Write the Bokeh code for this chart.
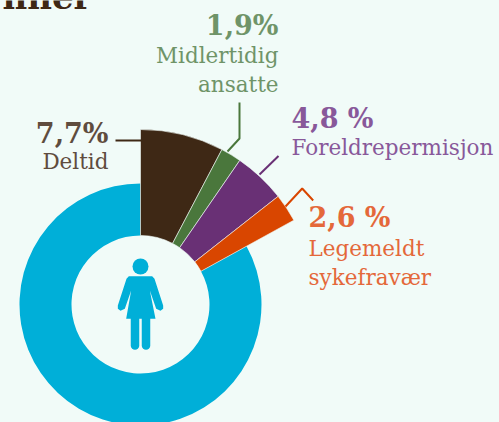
from math import pi
from bokeh.plotting import figure
from bokeh.embed import file_html
from bokeh.resources import INLINE
from bokeh.core.properties import value

# Data
categories = ["Deltid", "Midlertidig ansatte", "Foreldrepermisjon", "Legemeldt sykefravær"]
shares = [7.7, 1.9, 4.8, 2.6]
share_labels = ["7,7%", "1,9%", "4,8 %", "2,6 %"]
slice_colors = ["#3e2815", "#4a773c", "#693075", "#d94600"]
text_colors = ["#5f4c3e", "#6f9468", "#88589a", "#e4683a"]
rest_color = "#00afd8"
bg = "#f1fbf8"

W, H = 499, 422
def Y(py):
    return H - py

p = figure(width=W, height=H, x_range=(0, W), y_range=(0, H),
           output_backend="svg", toolbar_location=None, min_border=0)
p.axis.visible = False
p.grid.visible = False
p.outline_line_color = None
p.background_fill_color = bg
p.border_fill_color = bg

cx, cy = 140, Y(304)
r_in, r_rest, r_out = 69, 121, 175

# slices, clockwise from 12 o'clock
a = pi / 2
ends = []
for s in shares:
    ends.append(a - s / 100 * 2 * pi)
    a = ends[-1]
starts = [pi / 2] + ends[:-1]

p.annular_wedge([cx], [cy], r_in, r_rest, start_angle=[ends[-1]], end_angle=[pi / 2],
                direction="clock", color=rest_color, line_color=None)
p.annular_wedge([cx] * 4, [cy] * 4, r_in, r_out, start_angle=starts, end_angle=ends,
                direction="clock", fill_color=slice_colors, line_color=bg, line_width=0.6)

# leader lines
leaders = [
    ([115, 141], [140, 140], slice_colors[0]),
    ([239, 239, 227], [102, 138, 151], slice_colors[1]),
    ([278, 259], [155.5, 174], slice_colors[2]),
    ([285, 301.7, 312.7], [206, 188, 200], slice_colors[3]),
]
for xs, ys, c in leaders:
    p.line(xs, [Y(v) for v in ys], line_color=c, line_width=2)

# labels
NUM = value("DejaVu Serif")
LAB = value("DejaVu Serif")
def big(x, y, t, c, align):
    p.text([x], [Y(y - 10.5)], text=[t], text_color=c, text_font=NUM, text_font_size="27px",
           text_font_style="bold", text_align=align, text_baseline="alphabetic")
def small(x, y, t, c, align):
    p.text([x], [Y(y - 8.5)], text=[t], text_color=c, text_font=LAB, text_font_size="21.5px",
           text_align=align, text_baseline="alphabetic")

big(108, 143, share_labels[0], text_colors[0], "right")
small(108, 169, "Deltid", text_colors[0], "right")
big(278, 35, share_labels[1], text_colors[1], "right")
small(278, 63, "Midlertidig", text_colors[1], "right")
small(278, 92, "ansatte", text_colors[1], "right")
big(291, 128, share_labels[2], text_colors[2], "left")
small(291, 155, "Foreldrepermisjon", text_colors[2], "left")
big(308, 227, share_labels[3], text_colors[3], "left")
small(308, 256, "Legemeldt", text_colors[3], "left")
small(308, 285, "sykefravær", text_colors[3], "left")

# cropped heading
p.text([91], [Y(9 - 13)], text=["nner"], text_color="#3e2815", text_font=value("DejaVu Serif"),
       text_font_size="34px", text_font_style="bold", text_align="right", text_baseline="alphabetic")

# person icon
zx = lambda v: 90 + v / 3
zy = lambda v: Y(240 + v / 3)
dress_x = [115, 185, 192, 218, 218, 210, 197, 178, 195, 107, 122, 103, 90, 82, 82, 108]
dress_y = [107, 107, 115, 195, 205, 211, 205, 150, 235, 235, 150, 205, 211, 205, 195, 115]
p.patch([zx(v) for v in dress_x], [zy(v) for v in dress_y], color=rest_color, line_color=None)
p.circle([zx(150)], [zy(78)], radius=8, color=rest_color, line_color=None)
for lx in (134.5, 145.5):
    p.line([lx, lx], [Y(316), Y(345)], line_color=rest_color, line_width=8.5, line_cap="round")

html = file_html(p, INLINE).replace("</head>", "<style>html,body{background:%s}</style></head>" % bg)
open("out.html", "w").write(html)
